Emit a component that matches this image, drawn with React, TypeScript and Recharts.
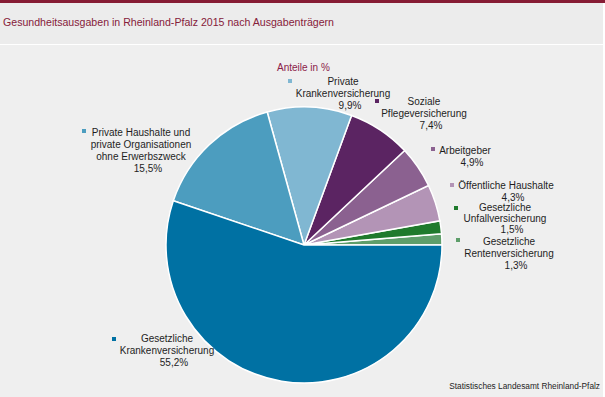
import { Cell, Pie, PieChart } from 'recharts'

// Anteile der Ausgabenträger, gegen den Uhrzeigersinn ab 3 Uhr
const traeger = [
  'Gesetzliche Rentenversicherung',
  'Gesetzliche Unfallversicherung',
  'Öffentliche Haushalte',
  'Arbeitgeber',
  'Soziale Pflegeversicherung',
  'Private Krankenversicherung',
  'Private Haushalte und private Organisationen ohne Erwerbszweck',
  'Gesetzliche Krankenversicherung',
]
const anteile = [1.3, 1.5, 4.3, 4.9, 7.4, 9.9, 15.5, 55.2]
const labelZeilen = [
  ['Gesetzliche', 'Rentenversicherung'],
  ['Gesetzliche', 'Unfallversicherung'],
  ['Öffentliche Haushalte'],
  ['Arbeitgeber'],
  ['Soziale', 'Pflegeversicherung'],
  ['Private', 'Krankenversicherung'],
  ['Private Haushalte und', 'private Organisationen', 'ohne Erwerbszweck'],
  ['Gesetzliche', 'Krankenversicherung'],
]

const COLORS = ['#5e9e6a', '#1f7a2c', '#b394b6', '#8b6190', '#5b2462', '#80b7d2', '#4c9dbf', '#0071a3']

// Position der Beschriftungen (Marker oben links, Textmitte, erste Zeile, Zeilenabstand)
const LABEL_POS = [
  { mx: 456, my: 238, tx: 509, ty: 241, step: 12 },
  { mx: 454, my: 206, tx: 505, ty: 207, step: 11 },
  { mx: 450, my: 183, tx: 506, ty: 185, step: 12 },
  { mx: 431, my: 147, tx: 465, ty: 150, step: 12 },
  { mx: 375, my: 99, tx: 424, ty: 101, step: 12 },
  { mx: 288, my: 79, tx: 343, ty: 81, step: 12 },
  { mx: 82, my: 129, tx: 141, ty: 132, step: 12 },
  { mx: 112, my: 337, tx: 167, ty: 338, step: 12 },
]

const data = traeger.map((name, i) => ({ name, value: anteile[i] }))

const FONT = 'Arial, "Liberation Sans", sans-serif'

// eslint-disable-next-line @typescript-eslint/no-explicit-any
function renderLabel(props: any) {
  const i = props.index
  const pos = LABEL_POS[i]
  const zeilen = [...labelZeilen[i], `${anteile[i].toFixed(1).replace('.', ',')}%`]
  return (
    <g key={`label-${i}`}>
      <rect x={pos.mx} y={pos.my} width={4} height={4} fill={COLORS[i]} />
      {zeilen.map((z, j) => (
        <text
          key={j}
          x={j === zeilen.length - 1 ? pos.tx + 7 : pos.tx}
          y={pos.ty + j * pos.step + 3.5}
          textAnchor="middle"
          fontSize={10}
          fontFamily={FONT}
          fill="#1e1e1e"
        >
          {z}
        </text>
      ))}
    </g>
  )
}

export default function App() {
  return (
    <div style={{ position: 'absolute', left: 0, top: 0, width: 605, height: 397, background: '#efefef', fontFamily: FONT }}>
      <div style={{ position: 'absolute', left: 0, top: 0, width: 605, height: 3, background: '#861c34' }} />
      <div style={{ position: 'absolute', left: 0, top: 3, width: 603, height: 41, background: '#ececec' }} />
      <div style={{ position: 'absolute', left: 0, top: 44, width: 605, height: 1, background: '#ffffff' }} />
      <div style={{ position: 'absolute', right: 0, top: 3, width: 2, height: 394, background: '#ffffff' }} />
      <div style={{ position: 'absolute', left: 3, top: 16, fontSize: 10.6, color: '#86203a', whiteSpace: 'nowrap' }}>
        Gesundheitsausgaben in Rheinland-Pfalz 2015 nach Ausgabenträgern
      </div>
      <div style={{ position: 'absolute', left: 277, top: 62, fontSize: 10, color: '#8b2048', whiteSpace: 'nowrap' }}>
        Anteile in %
      </div>
      <PieChart width={605} height={397} margin={{ top: 0, right: 0, bottom: 0, left: 0 }} style={{ position: 'absolute', left: 0, top: 0 }}>
        <Pie
          data={data}
          dataKey="value"
          cx={304}
          cy={245}
          outerRadius={138}
          startAngle={0}
          endAngle={360}
          stroke="#ffffff"
          strokeWidth={1.5}
          label={renderLabel}
          labelLine={false}
          isAnimationActive={false}
        >
          {data.map((entry, index) => (
            <Cell key={`cell-${index}`} fill={COLORS[index]} />
          ))}
        </Pie>
      </PieChart>
      <div style={{ position: 'absolute', right: 5, top: 381, fontSize: 8.3, color: '#1e1e1e', whiteSpace: 'nowrap' }}>
        Statistisches Landesamt Rheinland-Pfalz
      </div>
    </div>
  )
}
